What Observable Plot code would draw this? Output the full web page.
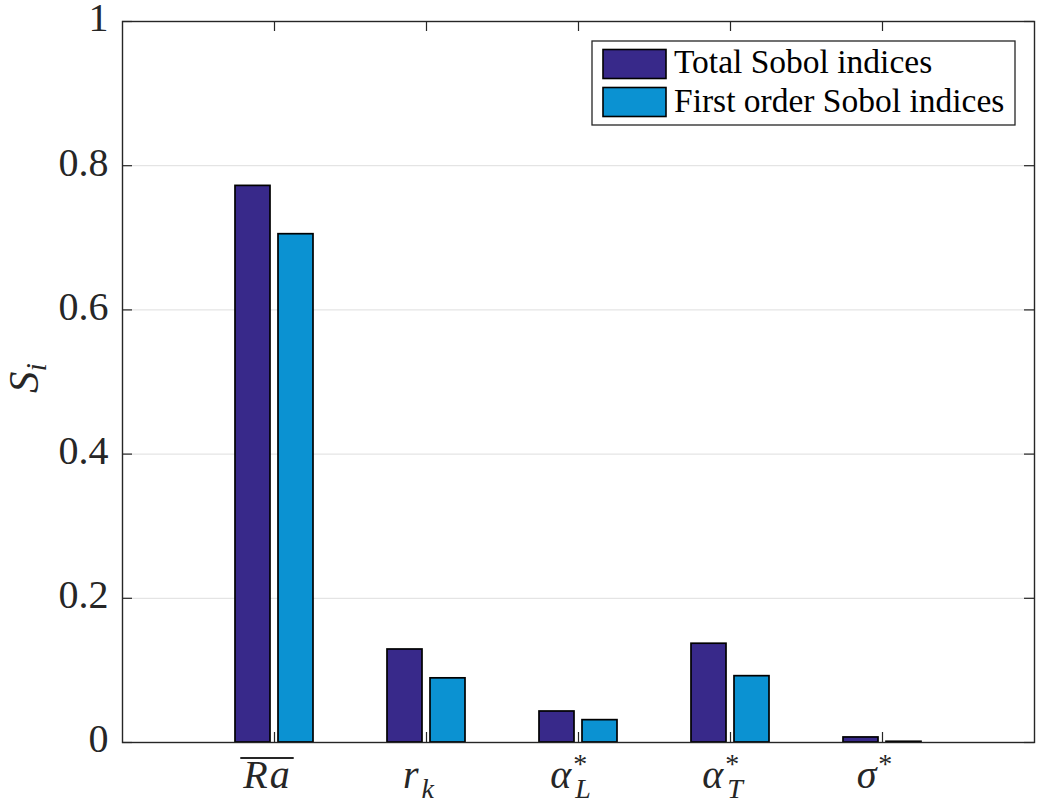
<!DOCTYPE html>
<html>
<head>
<meta charset="utf-8">
<script src="https://cdn.jsdelivr.net/npm/d3@7"></script>
<script src="https://cdn.jsdelivr.net/npm/@observablehq/plot@0.6"></script>
<style>
  html, body { margin: 0; padding: 0; background: #fff; }
  #chart svg { display: block; }
</style>
</head>
<body>
<div id="chart"></div>
<script>
// Sobol sensitivity indices for each uncertain input
const categories = ["Ra", "r_k", "alpha_L", "alpha_T", "sigma"];
const totalIndices = [0.772, 0.129, 0.043, 0.137, 0.007];
const firstOrderIndices = [0.705, 0.089, 0.031, 0.092, 0.001];
const seriesNames = ["Total Sobol indices", "First order Sobol indices"];
const seriesColors = ["#38298a", "#0b92d2"];
const yTicks = [0, 0.2, 0.4, 0.6, 0.8, 1];
// Math-style tick labels: base symbol, optional superscript/subscript, optional overbar
const tickParts = [
  {base: "Ra", over: true},
  {base: "r", sub: "k"},
  {base: "α", sup: "*", sub: "L"},
  {base: "α", sup: "*", sub: "T"},
  {base: "σ", sup: "*"}
];

const W = 1041, H = 806;
const mL = 122, mR = 7, mT = 21, mB = 64;
const frameW = W - mL - mR, frameH = H - mT - mB;
const ink = "#262626";

const totals = categories.map((c, i) => ({cat: c, value: totalIndices[i]}));
const firsts = categories.map((c, i) => ({cat: c, value: firstOrderIndices[i]}));

const svg = Plot.plot({
  width: W,
  height: H,
  marginLeft: mL,
  marginRight: mR,
  marginTop: mT,
  marginBottom: mB,
  style: {fontFamily: "'Liberation Serif', serif", color: ink, background: "#fff"},
  x: {type: "band", domain: categories, paddingInner: 0, paddingOuter: 0.5, align: 0.5},
  y: {domain: [0, 1]},
  marks: [
    Plot.ruleY(yTicks, {y: d => d, stroke: "#dedede", strokeWidth: 1}),
    Plot.barY(totals, {x: "cat", y: "value", fill: seriesColors[0], stroke: "#000", strokeWidth: 1.7, insetLeft: 37, insetRight: 80}),
    Plot.barY(firsts, {x: "cat", y: "value", fill: seriesColors[1], stroke: "#000", strokeWidth: 1.7, insetLeft: 80, insetRight: 37}),
    Plot.frame({stroke: ink, strokeWidth: 1.4}),
    // inward tick marks on all four sides
    Plot.tickY(yTicks, {y: d => d, insetRight: frameW - 10, stroke: ink, strokeWidth: 1.2}),
    Plot.tickY(yTicks, {y: d => d, insetLeft: frameW - 10, stroke: ink, strokeWidth: 1.2}),
    Plot.tickX(categories, {x: d => d, insetTop: frameH - 10, stroke: ink, strokeWidth: 1.2}),
    Plot.tickX(categories, {x: d => d, insetBottom: frameH - 10, stroke: ink, strokeWidth: 1.2}),
    Plot.axisY({ticks: yTicks, tickFormat: d3.format("~g"), tickSize: 0, tickPadding: 14, fontSize: 40, dy: -3, label: null}),
    Plot.axisX({tickSize: 0, tickPadding: 17, fontSize: 40, dx: -7, label: null})
  ]
});

const root = d3.select(svg);

// rebuild x tick labels with italic symbols, sub/superscripts and overbar
const overbarTexts = [];
root.selectAll('g[aria-label="x-axis tick label"] text').each(function (_, i) {
  const p = tickParts[i];
  const t = d3.select(this);
  t.text(null).attr("letter-spacing", 2);
  t.append("tspan").attr("font-style", "italic").text(p.base);
  if (p.over) overbarTexts.push(this);
  let up = 0;
  if (p.sup) {
    t.append("tspan").attr("font-size", 28).attr("dy", -15).text(p.sup);
    up = 15;
  }
  if (p.sub) {
    t.append("tspan").attr("font-style", "italic").attr("font-size", 28)
      .attr("dx", p.sup ? -14 : 1).attr("dy", up + 10).text(p.sub);
  }
});

// y-axis title S_i
const yl = root.append("text")
  .attr("transform", "translate(38,378) rotate(-90)")
  .attr("text-anchor", "middle")
  .attr("font-size", 43)
  .attr("font-style", "italic")
  .attr("fill", ink);
yl.append("tspan").text("S");
yl.append("tspan").attr("font-size", 30).attr("dy", 8).text("i");

// legend box in the upper right of the axes
const lg = root.append("g").attr("transform", "translate(592,41)").attr("text-anchor", "start");
lg.append("rect").attr("width", 423).attr("height", 84)
  .attr("fill", "#fff").attr("stroke", ink).attr("stroke-width", 1.3);
seriesNames.forEach((name, i) => {
  lg.append("rect").attr("x", 11).attr("y", 8.5 + i * 38).attr("width", 63).attr("height", 29)
    .attr("fill", seriesColors[i]).attr("stroke", "#000").attr("stroke-width", 1.6);
  lg.append("text").attr("x", 82).attr("y", 32 + i * 38.5).attr("text-anchor", "start")
    .attr("font-size", 33.5).attr("fill", "#000").text(name);
});

document.getElementById("chart").appendChild(svg);

// overbar drawn once the label has a measurable box
overbarTexts.forEach(el => {
  const bb = el.getBBox();
  const m = el.getCTM();
  const x0 = m.a * bb.x + m.e, x1 = m.a * (bb.x + bb.width) + m.e;
  const yTop = m.d * bb.y + m.f + 6;
  root.append("line")
    .attr("x1", x0 - 2).attr("x2", x1 + 2)
    .attr("y1", yTop).attr("y2", yTop)
    .attr("stroke", ink).attr("stroke-width", 2);
});
</script>
</body>
</html>
